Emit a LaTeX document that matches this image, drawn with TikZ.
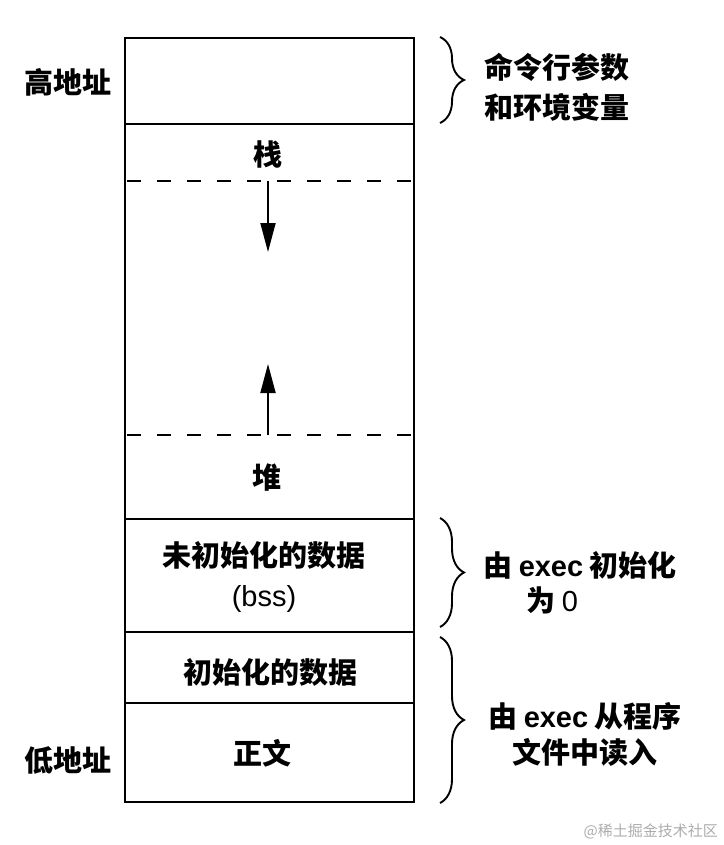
\documentclass[tikz,border=0pt]{standalone}
\usepackage{fontspec}
\setmainfont{Liberation Sans}
\newfontfamily\cjk{Noto Sans CJK SC}
\usetikzlibrary{arrows.meta,decorations.pathreplacing}
\tikzset{
  outline/.style={line width=2.2pt, black},
  sep/.style={line width=2.2pt, black},
  dashsep/.style={line width=2.4pt, black, dash pattern=on 14pt off 16pt, dash phase=-2pt},
  growarrow/.style={line width=1.9pt, -{Triangle[length=29pt,width=15pt]}},
  bracedec/.style={line width=1.9pt, decorate, decoration={brace, amplitude=24pt, aspect=0.5}},
  lbl/.style={inner sep=0pt, font=\cjk\bfseries\fontsize{29}{40}\selectfont, align=center},
  mark2/.style={inner sep=0pt, font=\cjk\fontsize{15}{18}\selectfont, text=black!32},
}
\newcommand{\ex}[1]{{\fontspec{Liberation Sans}\bfseries #1}}
\newcommand{\rg}[1]{{\fontspec{Liberation Sans}\mdseries #1}}
\begin{document}
\begin{tikzpicture}[x=1pt,y=-1pt]
\useasboundingbox[fill=white] (0,0) rectangle (723,845);

% box outline
\draw[outline] (125,38) rectangle (414,802);
\draw[sep] (125,124) -- (414,124);
\draw[dashsep] (125,181) -- (414,181);
\draw[dashsep, line width=2pt] (125,435) -- (414,435);
\draw[sep] (125,519) -- (414,519);
\draw[sep] (125,632) -- (414,632);
\draw[sep] (125,703) -- (414,703);

% arrows
\coordinate (stacktop) at (268,181);
\coordinate (stacktip) at (268,252);
\coordinate (heaptop) at (268,435);
\coordinate (heaptip) at (268,364);
\draw[growarrow] (stacktop) -- (stacktip);
\draw[growarrow] (heaptop) -- (heaptip);

% braces
\coordinate (b1t) at (440,37);
\coordinate (b1b) at (440,123);
\coordinate (b2t) at (440,518);
\coordinate (b2b) at (440,627);
\coordinate (b3t) at (440,637);
\coordinate (b3b) at (440,803);
\draw[bracedec] (b1t) -- (b1b);
\draw[bracedec] (b2t) -- (b2b);
\draw[bracedec] (b3t) -- (b3b);

% left labels
\node[lbl] (high) at (68,82) {高地址};
\node[lbl] (low) at (68,760) {低地址};

% inside labels
\node[lbl] (stack) at (268,154) {栈};
\node[lbl] (heap) at (267,478) {堆};
\node[lbl] (bss) at (264,577) {未初始化的数据\\\rg{(bss)}};
\node[lbl] (data) at (270,672) {初始化的数据};
\node[lbl] (text) at (262,753) {正文};

% right labels
\node[lbl] (args) at (557,87) {命令行参数\\和环境变量};
\node[lbl] (init1) at (580,565) {由 \ex{exec} 初始化};
\node[lbl] (init2) at (552,600) {为 \rg{0}};
\node[lbl, font=\cjk\bfseries\fontsize{29}{36}\selectfont] (read) at (585,734) {由 \ex{exec} 从程序\\文件中读入};

% watermark
\node[mark2, anchor=east] (wm) at (718,831) {@稀土掘金技术社区};
\end{tikzpicture}
\end{document}
